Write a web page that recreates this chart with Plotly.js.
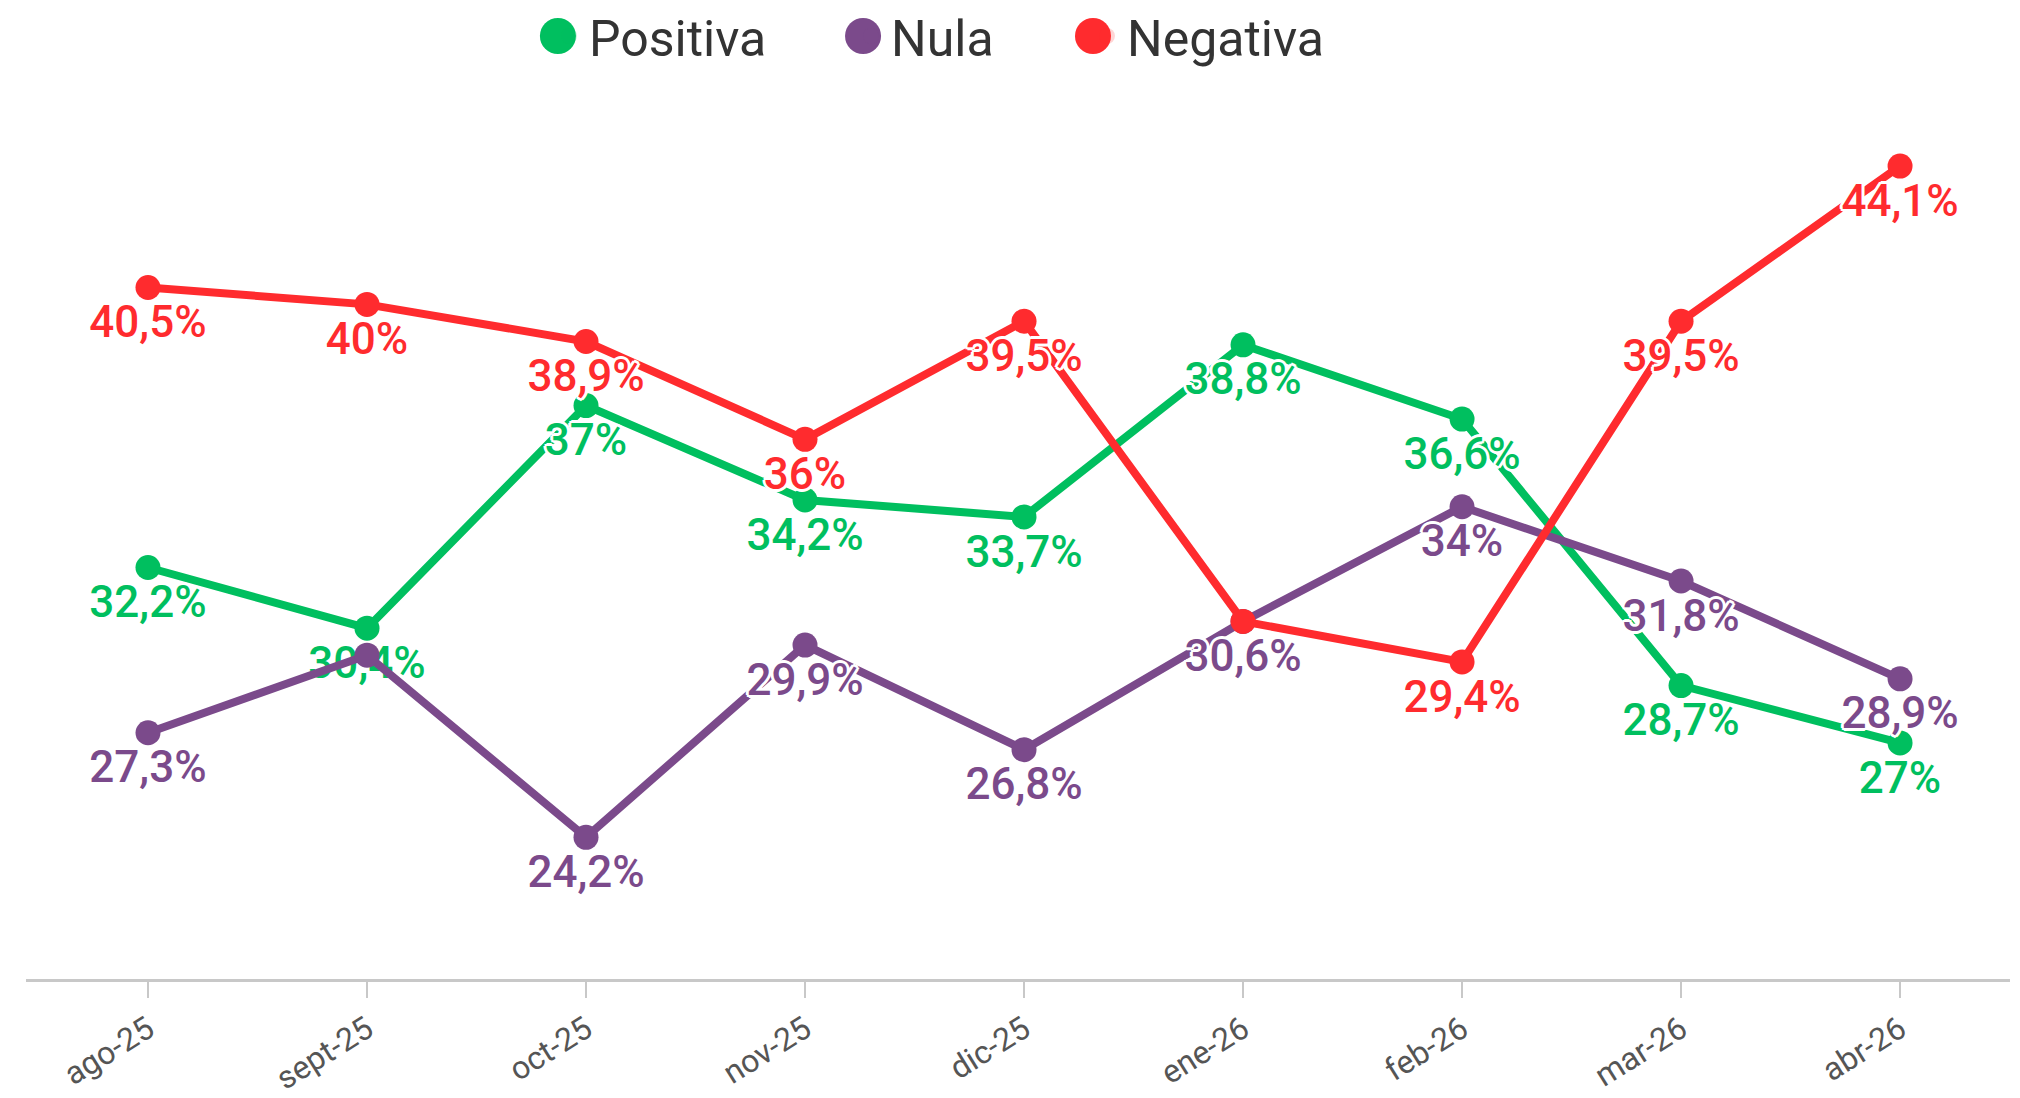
<!DOCTYPE html>
<html>
<head>
<meta charset="utf-8">
<script src="https://cdn.plot.ly/plotly-3.0.1.min.js"></script>
<style>html,body{margin:0;padding:0;background:#fff;}#chart{width:2020px;height:1098px;}</style>
</head>
<body>
<div id="chart"></div>
<script>
const months = ["ago-25","sept-25","oct-25","nov-25","dic-25","ene-26","feb-26","mar-26","abr-26"];
const seriesNames = ["Positiva","Nula","Negativa"];
const positiva = [32.2, 30.4, 37, 34.2, 33.7, 38.8, 36.6, 28.7, 27];
const nula     = [27.3, 29.6, 24.2, 29.9, 26.8, 30.6, 34, 31.8, 28.9];
const negativa = [40.5, 40, 38.9, 36, 39.5, 30.6, 29.4, 39.5, 44.1];
// labels not shown in the original (hidden by overlap)
const positivaHidden = [];
const nulaHidden = [1];
const negativaHidden = [5];
const colors = ["#00bf5f", "#7b4a8b", "#ff2b2e"];

const FONT = "Roboto, 'Open Sans', sans-serif";
const halo = "3px 0 0 #fff, -3px 0 0 #fff, 0 3px 0 #fff, 0 -3px 0 #fff, 2px 2px 0 #fff, -2px -2px 0 #fff, 2px -2px 0 #fff, -2px 2px 0 #fff";

function labels(vals, hidden) {
  return vals.map((v, i) => hidden.includes(i) ? "" : String(v).replace(".", ",") + "%");
}

const series = [
  {name: seriesNames[0], y: positiva, hidden: positivaHidden, color: colors[0], legend: "legend", lx: 0.2718, sx: 0.2681},
  {name: seriesNames[1], y: nula, hidden: nulaHidden, color: colors[1], legend: "legend2", lx: 0.4213, sx: 0.4219},
  {name: seriesNames[2], y: negativa, hidden: negativaHidden, color: colors[2], legend: "legend3", lx: 0.5381, sx: 0.5378}
];

const traces = [];
series.forEach(s => {
  traces.push({
    type: "scatter",
    mode: "lines+markers+text",
    x: months,
    y: s.y,
    name: s.name,
    showlegend: false,
    line: {color: s.color, width: 8},
    marker: {color: s.color, size: 25},
    text: labels(s.y, s.hidden),
    textposition: "bottom center",
    textfont: {family: FONT, size: 44, color: s.color, weight: 500, shadow: halo},
    cliponaxis: false,
    hoverinfo: "x+y"
  });
});
// legend entries (swatch drawn as a larger circle below)
series.forEach(s => {
  traces.push({
    type: "scatter",
    mode: "markers",
    x: [null],
    y: [null],
    name: s.name,
    legend: s.legend,
    marker: {color: s.color, size: 16, opacity: 0},
    showlegend: true,
    hoverinfo: "skip"
  });
});

const legendBase = {
  orientation: "h",
  xref: "container", yref: "container",
  xanchor: "left",
  y: 1 - 36 / 1098, yanchor: "middle",
  font: {family: FONT, size: 50, color: "#333"},
  itemsizing: "trace",
  itemwidth: 30,
  bgcolor: "rgba(0,0,0,0)"
};

const swatchY = 1 + (102 - 36) / 877;
const swatches = series.map(s => ({
  type: "circle",
  xref: "paper", yref: "paper",
  xsizemode: "pixel", ysizemode: "pixel",
  xanchor: s.sx, yanchor: swatchY,
  x0: -18, x1: 18, y0: -18, y1: 18,
  fillcolor: s.color,
  line: {width: 0},
  layer: "above"
}));

const layout = {
  width: 2020,
  height: 1098,
  margin: {l: 26, r: 10, t: 102, b: 119, autoexpand: false},
  paper_bgcolor: "#fff",
  plot_bgcolor: "#fff",
  font: {family: FONT, color: "#333"},
  showlegend: true,
  legend: Object.assign({}, legendBase, {x: series[0].lx}),
  legend2: Object.assign({}, legendBase, {x: series[1].lx}),
  legend3: Object.assign({}, legendBase, {x: series[2].lx}),
  shapes: swatches,
  xaxis: {
    type: "category",
    range: [-0.557, 8.502],
    showgrid: false,
    zeroline: false,
    showline: true,
    linecolor: "#c8c8c8",
    linewidth: 3,
    ticks: "outside",
    ticklen: 16,
    tickwidth: 2,
    tickcolor: "#c8c8c8",
    tickangle: -32,
    tickfont: {family: FONT, size: 32, color: "#555"},
    fixedrange: true
  },
  yaxis: {
    range: [20, 46],
    visible: false,
    showgrid: false,
    zeroline: false,
    fixedrange: true
  }
};

Plotly.newPlot("chart", traces, layout, {displayModeBar: false, responsive: false});
</script>
</body>
</html>
